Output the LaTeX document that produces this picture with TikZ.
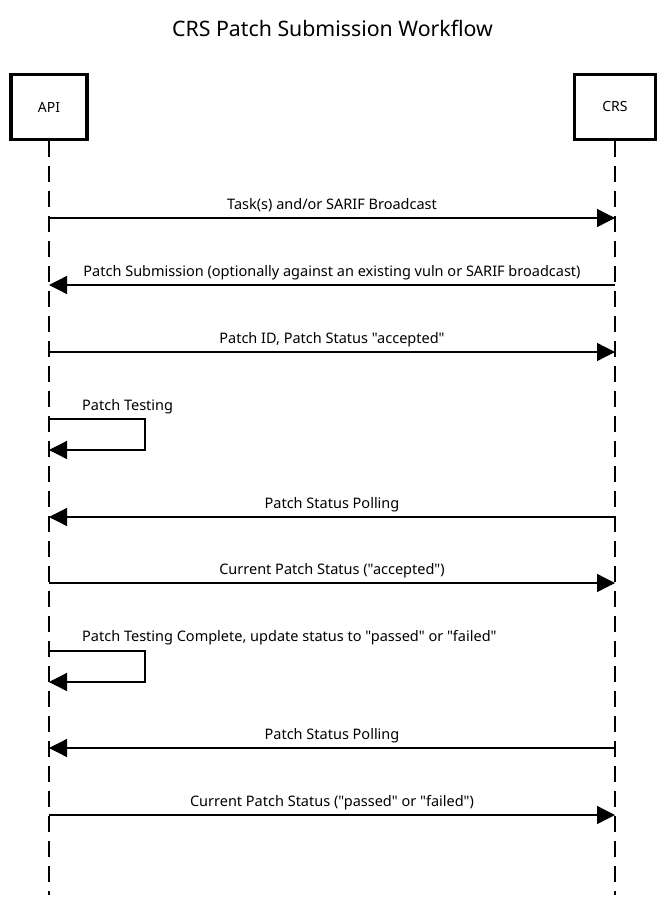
\documentclass[tikz,border=0pt]{standalone}
\usepackage{fontspec}
\setmainfont{Noto Sans}[Ligatures=TeXOff]
\usetikzlibrary{arrows.meta}
\begin{document}
\begin{tikzpicture}[x=1pt,y=-1pt,
  actor/.style={draw,line width=3.3pt,minimum width=76pt,minimum height=65pt,inner sep=0pt,font=\fontsize{14}{16}\selectfont},
  life/.style={line width=1.5pt,dash pattern=on 16pt off 9pt},
  msg/.style={line width=1.3pt,-{Triangle[length=18pt,width=18pt]}},
  lbl/.style={font=\fontsize{14.5}{17}\selectfont,inner sep=0pt,anchor=base}]
\useasboundingbox (0,0) rectangle (665,899);
\node[font=\fontsize{21.3}{24}\selectfont,anchor=base] (title) at (332.5,37) {CRS Patch Submission Workflow};
\node[actor] (api) at (49,107) {API};
\node[actor,minimum width=81pt] (crs) at (615,107) {CRS};
\coordinate (apiend) at (49,895);
\coordinate (crsend) at (615,895);
\draw[life] (api.south) -- (apiend);
\draw[life] (crs.south) -- (crsend);
% messages
\foreach \n/\y in {a1/218,c2/285,a3/352,c5/517,a6/583,c8/748,a9/815}{
  \coordinate (L\n) at (49,\y);
  \coordinate (R\n) at (615,\y);
}
\draw[msg] (La1) -- (Ra1);
\node[lbl] (t1) at (332,209) {Task(s) and/or SARIF Broadcast};
\draw[msg] (Rc2) -- (Lc2);
\node[lbl] (t2) at (332,276) {Patch Submission (optionally against an existing vuln or SARIF broadcast)};
\draw[msg] (La3) -- (Ra3);
\node[lbl] (t3) at (332,343) {Patch ID, Patch Status "accepted"};
\coordinate (s4a) at (49,419);
\coordinate (s4b) at (145,419);
\coordinate (s4c) at (145,450);
\coordinate (s4d) at (49,450);
\draw[msg] (s4a) -- (s4b) -- (s4c) -- (s4d);
\node[lbl,anchor=base west] (t4) at (82,410) {Patch Testing};
\draw[msg] (Rc5) -- (Lc5);
\node[lbl] (t5) at (332,508) {Patch Status Polling};
\draw[msg] (La6) -- (Ra6);
\node[lbl] (t6) at (332,574) {Current Patch Status ("accepted")};
\coordinate (s7a) at (49,651);
\coordinate (s7b) at (145,651);
\coordinate (s7c) at (145,682);
\coordinate (s7d) at (49,682);
\draw[msg] (s7a) -- (s7b) -- (s7c) -- (s7d);
\node[lbl,anchor=base west] (t7) at (82,641) {Patch Testing Complete, update status to "passed" or "failed"};
\draw[msg] (Rc8) -- (Lc8);
\node[lbl] (t8) at (332,739) {Patch Status Polling};
\draw[msg] (La9) -- (Ra9);
\node[lbl] (t9) at (332,806) {Current Patch Status ("passed" or "failed")};
\end{tikzpicture}
\end{document}
